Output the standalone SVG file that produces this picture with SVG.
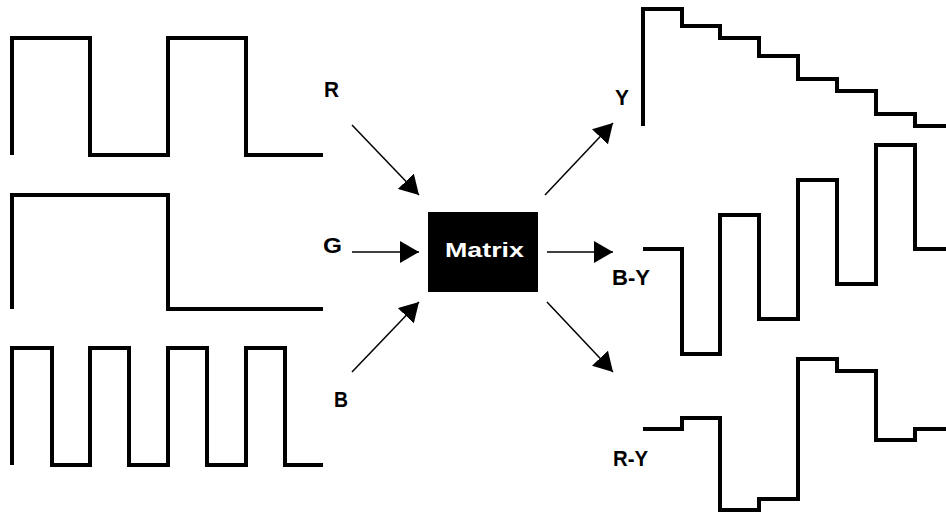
<svg xmlns="http://www.w3.org/2000/svg" width="946" height="513" viewBox="0 0 946 513">
<style>
.wave{fill:none;stroke:#000;stroke-width:4;stroke-linejoin:miter}
.conn{stroke:#000;stroke-width:1.5;fill:none}
.lbl{font-family:"Liberation Sans",Arial,sans-serif;font-weight:bold;font-size:22px;fill:#000}
.mtx{font-family:"Liberation Sans",Arial,sans-serif;font-weight:bold;font-size:21px;fill:#fff}
</style>
<defs>
<marker id="ah" markerUnits="userSpaceOnUse" markerWidth="20" markerHeight="22" refX="19" refY="11" orient="auto" viewBox="0 0 20 22">
<path d="M0,0 L19,11 L0,22 Z" fill="#000"/>
</marker>
</defs>
<rect width="946" height="513" fill="#fff"/>
<g id="wave-r"><path class="wave" d="M12,155 V38 H90 V155 H168 V38 H246 V155 H323"/></g>
<g id="wave-g"><path class="wave" d="M12,309 V195 H168 V309 H323"/></g>
<g id="wave-b"><path class="wave" d="M12,465 V348 H52 V465 H90 V348 H129 V465 H168 V348 H207 V465 H246 V348 H285 V465 H323"/></g>
<g id="label-r"><text class="lbl" x="324" y="97" textLength="15" lengthAdjust="spacingAndGlyphs">R</text></g>
<g id="label-g"><text class="lbl" x="323" y="253" textLength="19" lengthAdjust="spacingAndGlyphs">G</text></g>
<g id="label-b"><text class="lbl" x="334" y="407" textLength="14" lengthAdjust="spacingAndGlyphs">B</text></g>
<g id="matrix">
<rect x="428" y="212" width="110" height="80" fill="#000"/>
<text class="mtx" x="445" y="257" textLength="79" lengthAdjust="spacingAndGlyphs">Matrix</text>
</g>
<g id="label-y"><text class="lbl" x="615" y="105" textLength="14" lengthAdjust="spacingAndGlyphs">Y</text></g>
<g id="label-by"><text class="lbl" x="612" y="285" textLength="38" lengthAdjust="spacingAndGlyphs">B-Y</text></g>
<g id="label-ry"><text class="lbl" x="613" y="466" textLength="35" lengthAdjust="spacingAndGlyphs">R-Y</text></g>
<g id="wave-y"><path class="wave" d="M643,126 V9 H682 V26 H720 V38 H759 V56 H798 V79 H837 V91 H876 V114 H915 V126 H946"/></g>
<g id="wave-by"><path class="wave" d="M643,249 H682 V354 H720 V215 H759 V319 H798 V180 H837 V284 H876 V145 H915 V249 H946"/></g>
<g id="wave-ry"><path class="wave" d="M643,429 H682 V418 H720 V510 H759 V499 H798 V359 H837 V371 H876 V440 H915 V429 H946"/></g>
<g id="connectors">
<line class="conn" x1="352" y1="125" x2="419" y2="195" marker-end="url(#ah)"/>
<line class="conn" x1="352" y1="252" x2="419" y2="252" marker-end="url(#ah)"/>
<line class="conn" x1="352" y1="372" x2="419" y2="302" marker-end="url(#ah)"/>
<line class="conn" x1="545" y1="195" x2="613" y2="123" marker-end="url(#ah)"/>
<line class="conn" x1="547" y1="252" x2="613" y2="252" marker-end="url(#ah)"/>
<line class="conn" x1="547" y1="302" x2="613" y2="372" marker-end="url(#ah)"/>
</g>
</svg>
